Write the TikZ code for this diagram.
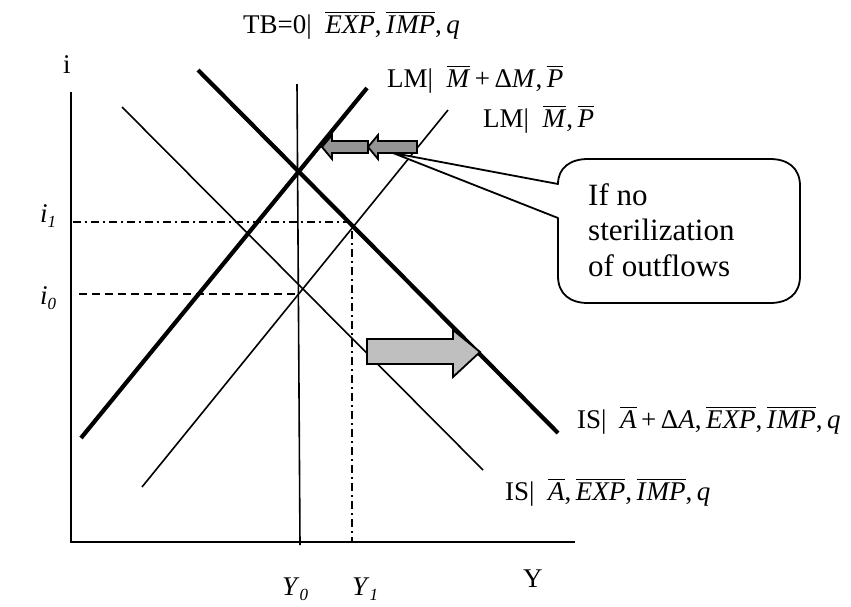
\documentclass[tikz,border=0pt]{standalone}
\usepackage{fontspec}
\setmainfont{Liberation Serif}
\newcommand\ob[1]{\leavevmode\vbox{\hrule height 1.3pt\kern 2.2pt\hbox{\itshape #1\/}}}
\newcommand\sbs[1]{\raisebox{-5pt}{\fontsize{17}{17}\selectfont\itshape #1}}
\begin{document}
\begin{tikzpicture}[x=1pt,y=-1pt,
  thinline/.style={line width=1.6pt},
  thickline/.style={line width=4.2pt},
  axisline/.style={line width=2.2pt},
  lbl/.style={anchor=base west,inner sep=0pt,font=\fontsize{27}{31}\selectfont},
  dashdot/.style={line width=1.8pt,dash pattern=on 8pt off 4pt on 2pt off 4pt},
  dashline/.style={line width=1.8pt,dash pattern=on 8pt off 5pt},
  leftarrow/.style={draw=black,line width=1.8pt,fill=black!42},
  rightarrow/.style={draw=black,line width=1.8pt,fill=black!25}]
\useasboundingbox (0,0) rectangle (851,606);
% coordinates
\coordinate (O) at (71,542);
\coordinate (Ytop) at (71,92);
\coordinate (Xend) at (575,542);
\coordinate (TBa) at (297,84);
\coordinate (TBb) at (300,545);
\coordinate (ISa) at (122,107);
\coordinate (ISb) at (483,470);
\coordinate (ISpa) at (198,70);
\coordinate (ISpb) at (558,433);
\coordinate (LMa) at (142,487);
\coordinate (LMb) at (448,110);
\coordinate (LMpa) at (81,438);
\coordinate (LMpb) at (367,88);
\coordinate (Ione) at (73,222);
\coordinate (Eone) at (352,222);
\coordinate (Xone) at (352,542);
\coordinate (Izero) at (79,294);
\coordinate (Ezero) at (298,294);
% axes
\draw[axisline] (Ytop) -- (O) -- (Xend);
% guides
\draw[dashdot] (Ione) -- (Eone) -- (Xone);
\draw[dashline] (Izero) -- (Ezero);
% curves
\draw[thinline] (TBa) -- (TBb);
\draw[thinline] (ISa) -- (ISb);
\draw[thinline] (LMa) -- (LMb);
\draw[thickline] (ISpa) -- (ISpb);
\draw[thickline] (LMpa) -- (LMpb);
% arrows
\draw[leftarrow] (322,147) -- (332,135) -- (332,141) -- (368,141) -- (368,153) -- (332,153) -- (332,159) -- cycle;
\draw[leftarrow] (368,147) -- (378,135) -- (378,141) -- (417,141) -- (417,153) -- (378,153) -- (378,159) -- cycle;
\draw[rightarrow] (367,339) -- (453,339) -- (453,330) -- (480,352) -- (453,377) -- (453,364) -- (367,364) -- cycle;
% callout
\coordinate (tip) at (393,153);
\draw[line width=1.8pt,fill=white,line join=round] (tip) -- (558,184) .. controls (558,168) and (570,159) .. (588,159) -- (770,159) .. controls (788,159) and (800,168) .. (800,186) -- (800,276) .. controls (800,294) and (788,303) .. (770,303) -- (588,303) .. controls (570,303) and (558,294) .. (558,276) -- (558,218) -- cycle;
\node[anchor=north west,inner sep=0pt,align=left,font=\fontsize{31}{35.5}\selectfont] (note) at (588,183) {If no\\sterilization\\of outflows};
% labels
\node[lbl] (tbl) at (243,33) {TB=0|\ \ \ob{E}\ob{XP},\,\ob{I}\ob{MP},\,\textit{q}};
\node[lbl] (lmpl) at (387,87) {LM|\ \ \ob{M}\,+\,Δ\textit{M}\/,\,\ob{P}};
\node[lbl] (lml) at (483,127) {LM|\ \ \ob{M},\,\ob{P}};
\node[lbl] (ispl) at (577,428) {IS|\ \ \ob{A}\,+\,Δ\textit{A},\,\ob{E}\ob{XP},\,\ob{I}\ob{MP},\,\textit{q}};
\node[lbl] (isl) at (505,500) {IS|\ \ \ob{A},\,\ob{E}\ob{XP},\,\ob{I}\ob{MP},\,\textit{q}};
\node[lbl] (il) at (63,73) {i};
\node[lbl] (ione) at (40,222) {\textit{i}\sbs{1}};
\node[lbl] (izero) at (40,304) {\textit{i}\sbs{0}};
\node[lbl] (yzero) at (282,595) {\textit{Y}\sbs{0}};
\node[lbl] (yone) at (352,595) {\textit{Y}\sbs{1}};
\node[lbl] (yl) at (523,587) {Y};
\end{tikzpicture}
\end{document}
